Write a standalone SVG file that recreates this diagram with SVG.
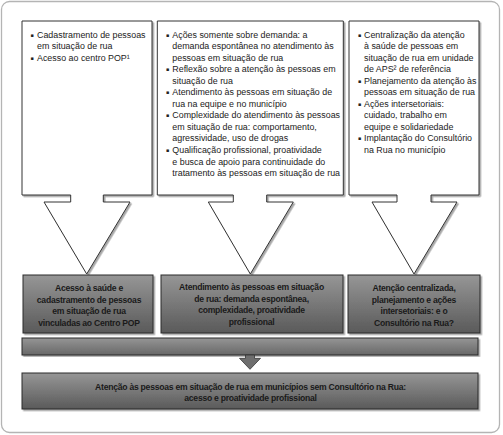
<svg xmlns="http://www.w3.org/2000/svg" width="503" height="435" viewBox="0 0 503 435">
<defs>
<linearGradient id="gb" x1="0" y1="0" x2="0" y2="1">
<stop offset="0" stop-color="#969696"/>
<stop offset="1" stop-color="#5a5a5a"/>
</linearGradient>
<linearGradient id="gbar" x1="0" y1="0" x2="0" y2="1">
<stop offset="0" stop-color="#959595"/>
<stop offset="1" stop-color="#686868"/>
</linearGradient>
<filter id="sh" x="-5%" y="-5%" width="112%" height="112%">
<feDropShadow dx="1.6" dy="1.6" stdDeviation="0.7" flood-color="#000" flood-opacity="0.35"/>
</filter>
</defs>
<style>
.callout{fill:#fff;stroke:#333;stroke-width:1;filter:url(#sh)}
.gbox{fill:url(#gb);stroke:#2a2a2a;stroke-width:1;filter:url(#sh)}
.t{font-family:"Liberation Sans",Arial,sans-serif;font-size:8.9px;fill:#222}
.b{font-family:"DejaVu Sans",sans-serif;font-size:5px;fill:#222}
.bt{font-family:"Liberation Sans",Arial,sans-serif;font-size:8.6px;font-weight:bold;fill:#1a1a1a;text-anchor:middle;letter-spacing:-0.25px}
</style>
<rect x="1.5" y="1.5" width="498" height="431" rx="8" fill="#fff" stroke="#b4b4b4" stroke-width="1.3"/>

<g id="callout1">
<path class="callout" d="M22,21 H152 V195 H103.3 V202 H130 L86.7,274 L44,202 H70.7 V195 H22 Z"/>
<text class="b" x="30.5" y="36.5">▪</text>
<text class="t" x="37" y="37.5">Cadastramento de pessoas</text>
<text class="t" x="37" y="49">em situação de rua</text>
<text class="b" x="30.5" y="59.6">▪</text>
<text class="t" x="37" y="60.6">Acesso ao centro POP¹</text>
</g>

<g id="callout2">
<path class="callout" d="M157.3,21 H343.3 V195 H266.7 V202 H293.3 L250.3,274 L208.3,202 H233.3 V195 H157.3 Z"/>
<g class="t">
<text x="172.3" y="37.5">Ações somente sobre demanda: a</text>
<text x="172.3" y="49">demanda espontânea no atendimento às</text>
<text x="172.3" y="60.6">pessoas em situação de rua</text>
<text x="172.3" y="72.1">Reflexão sobre a atenção às pessoas em</text>
<text x="172.3" y="83.7">situação de rua</text>
<text x="172.3" y="95.2">Atendimento às pessoas em situação de</text>
<text x="172.3" y="106.8">rua na equipe e no município</text>
<text x="172.3" y="118.3">Complexidade do atendimento às pessoas</text>
<text x="172.3" y="129.9">em situação de rua: comportamento,</text>
<text x="172.3" y="141.4">agressividade, uso de drogas</text>
<text x="172.3" y="153">Qualificação profissional, proatividade</text>
<text x="172.3" y="164.5">e busca de apoio para continuidade do</text>
<text x="172.3" y="176.1">tratamento às pessoas em situação de rua</text>
</g>
<g class="b">
<text x="166" y="36.5">▪</text>
<text x="166" y="71.1">▪</text>
<text x="166" y="94.2">▪</text>
<text x="166" y="117.3">▪</text>
<text x="166" y="152">▪</text>
</g>
</g>

<g id="callout3">
<path class="callout" d="M349,21 H479 V195 H431 V202 H457 L414,274 L372,202 H397 V195 H349 Z"/>
<g class="t">
<text x="364" y="37.5">Centralização da atenção</text>
<text x="364" y="49">à saúde de pessoas em</text>
<text x="364" y="60.6">situação de rua em unidade</text>
<text x="364" y="72.1">de APS² de referência</text>
<text x="364" y="83.7">Planejamento da atenção às</text>
<text x="364" y="95.2">pessoas em situação de rua</text>
<text x="364" y="106.8">Ações intersetoriais:</text>
<text x="364" y="118.3">cuidado, trabalho em</text>
<text x="364" y="129.9">equipe e solidariedade</text>
<text x="364" y="141.4">Implantação do Consultório</text>
<text x="364" y="153">na Rua no município</text>
</g>
<g class="b">
<text x="358" y="36.5">▪</text>
<text x="358" y="82.7">▪</text>
<text x="358" y="105.8">▪</text>
<text x="358" y="140.4">▪</text>
</g>
</g>

<g id="result1">
<rect class="gbox" x="23" y="275" width="130" height="58"/>
<text class="bt" x="89" y="291">Acesso à saúde e</text>
<text class="bt" x="89" y="302.5">cadastramento de pessoas</text>
<text class="bt" x="89" y="314">em situação de rua</text>
<text class="bt" x="89" y="325.5">vinculadas ao Centro POP</text>
</g>

<g id="result2">
<rect class="gbox" x="161" y="275" width="182" height="58"/>
<text class="bt" x="251.5" y="290">Atendimento às pessoas em situação</text>
<text class="bt" x="251.5" y="301.5">de rua: demanda espontânea,</text>
<text class="bt" x="251.5" y="313">complexidade, proatividade</text>
<text class="bt" x="251.5" y="324.5">profissional</text>
</g>

<g id="result3">
<rect class="gbox" x="348" y="275" width="132" height="58"/>
<text class="bt" x="414" y="291">Atenção centralizada,</text>
<text class="bt" x="414" y="302.5">planejamento e ações</text>
<text class="bt" x="414" y="314">intersetoriais: e o</text>
<text class="bt" x="414" y="325.5">Consultório na Rua?</text>
</g>

<g id="bar">
<rect x="22" y="338" width="456" height="17" fill="url(#gbar)" stroke="#2a2a2a" stroke-width="1" filter="url(#sh)"/>
</g>

<g id="connectors">
<path d="M245.5,355 H254.5 V358.3 H260.5 L250,369.3 L239.5,358.3 H245.5 Z" fill="#6e6e6e" stroke="#333" stroke-width="0.8"/>
</g>

<g id="conclusion">
<rect class="gbox" x="22" y="373" width="456" height="36"/>
<text class="bt" x="250.5" y="389.5">Atenção às pessoas em situação de rua em municípios sem Consultório na Rua:</text>
<text class="bt" x="250.5" y="401">acesso e proatividade profissional</text>
</g>
</svg>
